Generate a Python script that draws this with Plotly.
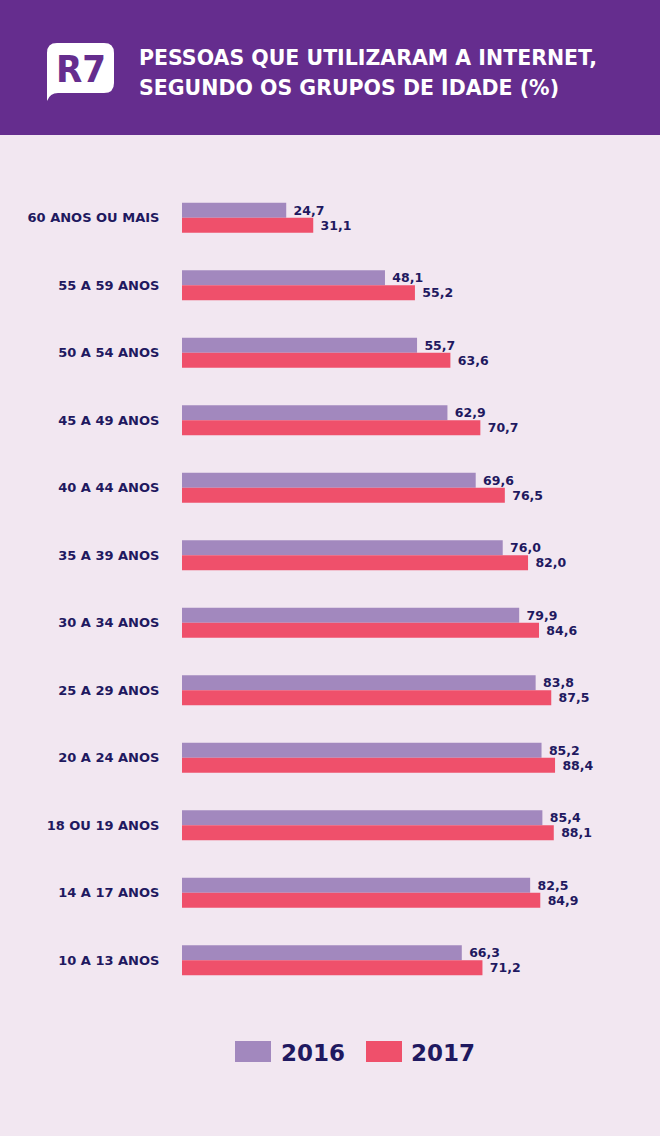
import plotly.graph_objects as go

W, H = 660, 1136

categories = ["60 ANOS OU MAIS", "55 A 59 ANOS", "50 A 54 ANOS", "45 A 49 ANOS",
              "40 A 44 ANOS", "35 A 39 ANOS", "30 A 34 ANOS", "25 A 29 ANOS",
              "20 A 24 ANOS", "18 OU 19 ANOS", "14 A 17 ANOS", "10 A 13 ANOS"]
values_2016 = [24.7, 48.1, 55.7, 62.9, 69.6, 76.0, 79.9, 83.8, 85.2, 85.4, 82.5, 66.3]
values_2017 = [31.1, 55.2, 63.6, 70.7, 76.5, 82.0, 84.6, 87.5, 88.4, 88.1, 84.9, 71.2]
series_names = ["2016", "2017"]
title_lines = ["PESSOAS QUE UTILIZARAM A INTERNET,", "SEGUNDO OS GRUPOS DE IDADE (%)"]

C16 = "#A288BE"
C17 = "#EF506B"
NAVY = "#1F1960"
PURPLE = "#652D8E"
BG = "#F2E7F1"
FONT = "DejaVu Sans"


def px(x):
    return x / W


def py(y):
    return 1 - y / H


def P(x, y):
    return f"{px(x):.5f},{py(y):.5f}"


fig = go.Figure()
for name, vals, col in [(series_names[0], values_2016, C16), (series_names[1], values_2017, C17)]:
    fig.add_trace(go.Bar(
        y=categories, x=vals, name=name, orientation="h",
        marker=dict(color=col, line=dict(width=0)),
        texttemplate="\u00a0%{x:.1f}", textposition="outside",
        textfont=dict(family=FONT, size=12.5, color=NAVY, weight=700),
        cliponaxis=False, constraintext="none", showlegend=False,
        hoverinfo="skip",
    ))

shapes = [
    dict(type="rect", xref="paper", yref="paper", x0=0, x1=1, y0=py(135), y1=1,
         fillcolor=PURPLE, line=dict(width=0), layer="below"),
    dict(type="path", xref="paper", yref="paper",
         path=(f"M {P(57,43)} L {P(104,43)} Q {P(114,43)} {P(114,53)} L {P(114,83)} "
               f"Q {P(114,93)} {P(104,93)} L {P(58,93)} Q {P(50,93)} {P(47,101)} "
               f"L {P(47,53)} Q {P(47,43)} {P(57,43)} Z"),
         fillcolor="white", line=dict(width=0)),
    dict(type="rect", xref="paper", yref="paper", x0=px(235), x1=px(271),
         y0=py(1062), y1=py(1041), fillcolor=C16, line=dict(width=0)),
    dict(type="rect", xref="paper", yref="paper", x0=px(366), x1=px(402),
         y0=py(1062), y1=py(1041), fillcolor=C17, line=dict(width=0)),
]

annotations = [
    dict(text="R7", x=px(81), y=py(69), xref="paper", yref="paper", showarrow=False,
         xanchor="center", yanchor="middle",
         font=dict(family="DejaVu Sans Condensed, DejaVu Sans", size=38,
                   color=PURPLE, weight=700)),
    dict(text=title_lines[0], x=px(137), y=py(58), xref="paper", yref="paper", showarrow=False,
         xanchor="left", yanchor="middle",
         font=dict(family=FONT, size=20.5, color="white", weight=700)),
    dict(text=title_lines[1], x=px(137), y=py(87.5), xref="paper", yref="paper", showarrow=False,
         xanchor="left", yanchor="middle",
         font=dict(family=FONT, size=20.5, color="white", weight=700)),
    dict(text=series_names[0], x=px(279), y=py(1053), xref="paper", yref="paper", showarrow=False,
         xanchor="left", yanchor="middle",
         font=dict(family=FONT, size=23, color=NAVY, weight=700)),
    dict(text=series_names[1], x=px(409), y=py(1053), xref="paper", yref="paper", showarrow=False,
         xanchor="left", yanchor="middle",
         font=dict(family=FONT, size=23, color=NAVY, weight=700)),
]

fig.update_layout(
    width=W, height=H, autosize=False,
    margin=dict(l=0, r=0, t=0, b=0),
    paper_bgcolor=BG, plot_bgcolor="rgba(0,0,0,0)",
    barmode="group", bargap=0.555, bargroupgap=0,
    separators=",.",
    shapes=shapes, annotations=annotations,
    xaxis=dict(domain=[px(182), px(182 + 422)], range=[0, 100], visible=False, fixedrange=True),
    yaxis=dict(domain=[py(994), py(184)], autorange="reversed", type="category",
               showgrid=False, zeroline=False, showline=False,
               ticks="outside", ticklen=19, tickcolor="rgba(0,0,0,0)",
               tickfont=dict(family=FONT, size=13, color=NAVY, weight=700),
               fixedrange=True),
)

fig.write_html("out.html", config={"displayModeBar": False},
               post_script="document.body.style.margin='0';document.body.style.overflow='hidden';")
